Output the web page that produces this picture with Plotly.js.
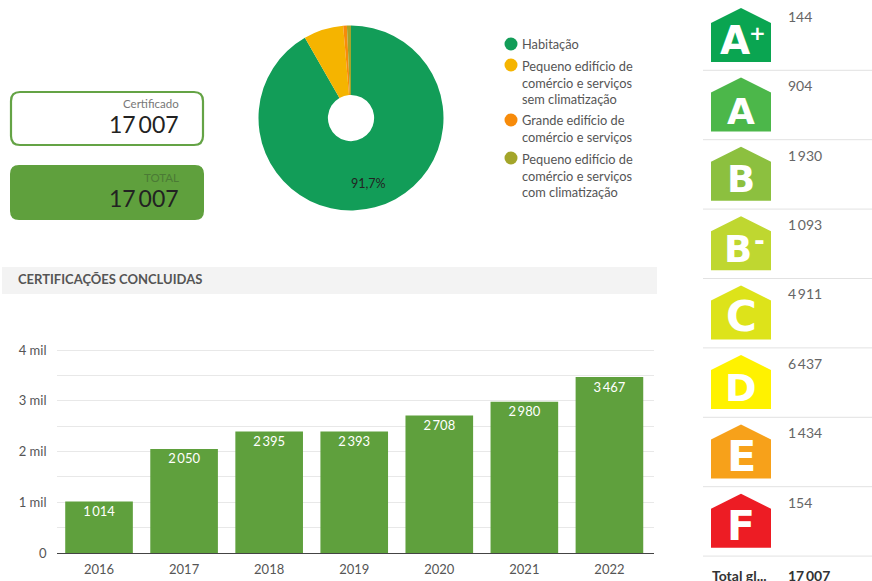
<!DOCTYPE html>
<html><head><meta charset="utf-8">
<script src="https://cdn.plot.ly/plotly-3.0.1.min.js"></script>
<style>html,body{margin:0;padding:0;background:#fff}#c{width:872px;height:581px}</style>
</head><body><div id="c"></div>
<script>
const years = ['2016','2017','2018','2019','2020','2021','2022'];
const certificates = [1014,2050,2395,2393,2708,2980,3467];
const yTickVals = [0,500,1000,1500,2000,2500,3000,3500,4000];
const yTickText = ['0','','1 mil','','2 mil','','3 mil','','4 mil'];
const buildingTypes = ['Habitação','Pequeno edifício de comércio e serviços sem climatização','Grande edifício de comércio e serviços','Pequeno edifício de comércio e serviços com climatização'];
const buildingLines = ['Habitação','Pequeno edifício de<br>comércio e serviços<br>sem climatização','Grande edifício de<br>comércio e serviços','Pequeno edifício de<br>comércio e serviços<br>com climatização'];
const buildingCounts = [15595,1182,110,120];
const buildingColors = ['#129d58','#f5b400','#f78b0a','#a3a52a'];
const energyClasses = ['A','A','B','B','C','D','E','F'];
const energySuffix = ['+','','','-','','','',''];
const energyCounts = ['144','904','1\u2009930','1\u2009093','4\u2009911','6\u2009437','1\u2009434','154'];
const energyColors = ['#0aa551','#4cb74a','#8cc03f','#bfd730','#dde31a','#fff200','#f7a11a','#ed1c24'];
const totalLabel = 'Total gl...';
const totalValue = '17\u2009007';

const W=872,H=581,FONT='Lato, "Open Sans", sans-serif';
const shapes=[],annotations=[];
const note=(x,y,text,size,color,opt={})=>annotations.push(Object.assign({xref:'x2',yref:'y2',x,y,text,showarrow:false,
  xanchor:'left',yanchor:'middle',align:'left',borderpad:0,font:{family:FONT,size,color}},opt));
const rrect=(x0,y0,x1,y1,r)=>`M${x0+r},${y0}H${x1-r}Q${x1},${y0} ${x1},${y0+r}V${y1-r}Q${x1},${y1} ${x1-r},${y1}H${x0+r}Q${x0},${y1} ${x0},${y1-r}V${y0+r}Q${x0},${y0} ${x0+r},${y0}Z`;
const shape=(o)=>shapes.push(Object.assign({xref:'x2',yref:'y2',layer:'below'},o));

// KPI cards
shape({type:'path',path:rrect(11,92,203,145,9),fillcolor:'#fff',line:{color:'#64a345',width:2.2}});
shape({type:'path',path:rrect(10,165,204,220,9),fillcolor:'#5fa03d',line:{width:0}});
note(180,103.5,'Certificado',11.5,'#777',{xanchor:'right',align:'right'});
note(180,123.5,totalValue,23,'#222',{xanchor:'right',align:'right'});
note(180,177,'TOTAL',11.5,'#4b7a35',{xanchor:'right',align:'right'});
note(180,197.5,totalValue,23,'#222',{xanchor:'right',align:'right'});

// Section header
shape({type:'rect',x0:2,x1:657,y0:267,y1:294,fillcolor:'#f3f3f3',line:{width:0}});
note(16.5,279,'<b>CERTIFICAÇÕES CONCLUIDAS</b>',13,'#555');

// Pie legend and share label
const legendY=[44,82,128.5,175];
const dotY=[44,65,120,158];
buildingLines.forEach((t,i)=>note(521,legendY[i],t,12.8,'#555'));
const share=(100*buildingCounts[0]/buildingCounts.reduce((a,b)=>a+b,0)).toFixed(1).replace('.',',')+'%';
note(368,183,share,12.5,'#222',{xanchor:'center',align:'center'});

// Energy classes
const pitch=69.4;
const letterSize=[39,36,37,37,42,38,43,41];
const letterX=[735,741,741,738,741,741,741,741];
const letterDY=[32,34,33,33,31,33,31.6,31.7];
const bf=n=>({family:'"DejaVu Sans", sans-serif',size:n,color:'#fff',weight:700});
energyClasses.forEach((c,i)=>{
  const top=8+i*pitch, sh=top+15, bot=top+54;
  shape({type:'path',path:`M741,${top}L771,${sh}V${bot}H711V${sh}Z`,fillcolor:energyColors[i],line:{width:0}});
  note(letterX[i],top+letterDY[i],'<b>'+c+'</b>',letterSize[i],'#fff',{xanchor:'center',font:bf(letterSize[i])});
  if(energySuffix[i]==='+') note(757,top+25,'<b>+</b>',20,'#fff',{xanchor:'center',font:bf(20)});
  if(energySuffix[i]==='-') note(759,top+25,'<b>-</b>',26,'#fff',{xanchor:'center',font:bf(26)});
  note(786.5,top+8.3,energyCounts[i],14,'#666');
  shape({type:'line',x0:703,x1:872,y0:70.3+i*pitch,y1:70.3+i*pitch,line:{color:'#e2e2e2',width:1}});
});
note(711,575,'<b>'+totalLabel+'</b>',14,'#333');
note(786.5,575,'<b>'+totalValue+'</b>',14,'#333');

const bars={type:'bar',x:years,y:certificates,marker:{color:'#5fa03d'},hoverinfo:'x+y',xaxis:'x',yaxis:'y'};
const barLabels={type:'scatter',mode:'markers+text',x:years,y:certificates,texttemplate:'%{y:,d}',textposition:'bottom center',
  marker:{size:6,color:'rgba(0,0,0,0)'},
  textfont:{family:FONT,size:13,color:'#fff'},hoverinfo:'skip',xaxis:'x',yaxis:'y',showlegend:false};
const pie={type:'pie',labels:buildingTypes,values:buildingCounts,sort:false,direction:'clockwise',rotation:0,hole:0.25,
  marker:{colors:buildingColors,line:{width:0}},textinfo:'none',showlegend:false,
  domain:{x:[258.5/W,443.5/W],y:[1-210.5/H,1-25.5/H]}};
const legendDots={type:'scatter',mode:'markers',x:dotY.map(()=>511),y:dotY,
  xaxis:'x2',yaxis:'y2',marker:{color:buildingColors,size:13},hoverinfo:'skip',showlegend:false};

Plotly.newPlot('c',[bars,barLabels,pie,legendDots],{
  width:W,height:H,margin:{l:0,r:0,t:0,b:0},paper_bgcolor:'#fff',plot_bgcolor:'rgba(0,0,0,0)',
  showlegend:false,separators:',\u2009',bargap:0.205,font:{family:FONT},
  xaxis:{domain:[56.5/W,654/W],range:[-0.5,6.524],type:'category',showgrid:false,ticks:'',
    showline:false,zeroline:false,tickfont:{family:FONT,size:13,color:'#555'},ticklabelstandoff:7,fixedrange:true},
  yaxis:{domain:[1-553/H,1-339.85/H],range:[0,4200],tickmode:'array',tickvals:yTickVals,ticktext:yTickText,
    gridcolor:'#e8e8e8',gridwidth:1.3,zeroline:true,zerolinecolor:'#444',zerolinewidth:1.3,showline:false,ticks:'',
    tickfont:{family:FONT,size:13,color:'#555'},fixedrange:true,ticklabelstandoff:9},
  xaxis2:{domain:[0,1],range:[0,W],visible:false,fixedrange:true,anchor:'y2'},
  yaxis2:{domain:[0,1],range:[H,0],visible:false,fixedrange:true,anchor:'x2'},
  shapes,annotations
},{displayModeBar:false});
</script></body></html>
